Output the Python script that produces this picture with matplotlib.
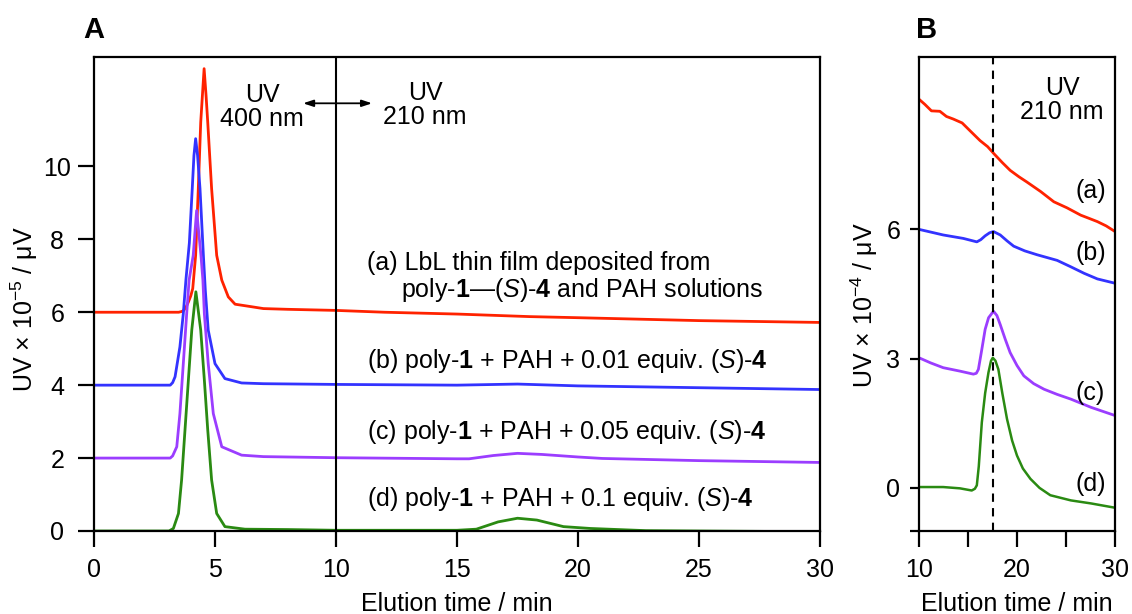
import matplotlib
matplotlib.use("Agg")
import matplotlib.pyplot as plt

plt.rcParams['font.family'] = ['Liberation Sans', 'DejaVu Sans']
plt.rcParams['mathtext.fontset'] = 'custom'
plt.rcParams['mathtext.rm'] = 'Liberation Sans'
plt.rcParams['mathtext.it'] = 'Liberation Sans:italic'
plt.rcParams['mathtext.bf'] = 'Liberation Sans:bold'

# ---------- panel A : full chromatograms (UV x 1e-5 / uV) ----------
a_t = [0, 3.5, 3.62, 3.69, 3.79, 3.90, 4.0, 4.08, 4.2, 4.31, 4.41, 4.48, 4.55,
       4.63, 4.70, 4.86, 5.07, 5.28, 5.55, 5.83, 6.52, 7, 8, 10, 12, 15, 18, 20, 25, 30]
a_uv = [6.0, 6.0, 6.02, 6.04, 6.12, 6.28, 6.45, 6.65, 7.56, 9.39, 11.21, 11.95, 12.68,
        11.95, 11.21, 9.39, 7.56, 6.88, 6.42, 6.22, 6.15, 6.1, 6.08, 6.05, 6.0, 5.95,
        5.88, 5.85, 5.77, 5.72]

b_t = [0, 3.15, 3.25, 3.35, 3.55, 3.69, 3.8, 3.94, 4.06, 4.13, 4.2, 4.28, 4.38,
       4.52, 4.6, 4.72, 5.0, 5.41, 6.1, 7, 10, 15, 17.5, 20, 25, 30]
b_uv = [4.0, 4.0, 4.07, 4.23, 5.05, 5.96, 6.9, 7.9, 9.39, 10.3, 10.76, 10.3, 9.39,
        7.56, 6.6, 5.51, 4.59, 4.18, 4.06, 4.04, 4.02, 4.0, 4.03, 3.98, 3.93, 3.88]

c_t = [0, 3.15, 3.25, 3.42, 3.55, 3.69, 3.83, 3.93, 4.10, 4.24, 4.42, 4.5, 4.56,
       4.72, 4.93, 5.28, 6.1, 7, 10, 15, 15.5, 16.5, 17.5, 18.5, 20, 21, 25, 30]
c_uv = [2.0, 2.0, 2.06, 2.31, 3.22, 4.59, 5.96, 6.88, 7.56, 8.79, 7.56, 6.88, 5.96,
        4.59, 3.22, 2.31, 2.08, 2.04, 2.01, 1.98, 1.98, 2.07, 2.13, 2.1, 2.03, 1.99,
        1.93, 1.88]

d_t = [0, 3.1, 3.28, 3.49, 3.62, 3.76, 3.90, 4.04, 4.21, 4.41, 4.56, 4.70, 4.86,
       5.07, 5.41, 6.24, 8, 10, 15, 15.8, 16.7, 17.5, 18.3, 19.4, 20.5, 22.8, 25, 30]
d_uv = [0, 0, 0.07, 0.48, 1.40, 2.77, 4.14, 5.51, 6.56, 5.51, 4.14, 2.77, 1.40,
        0.48, 0.12, 0.05, 0.04, 0.02, 0.02, 0.05, 0.25, 0.35, 0.3, 0.12, 0.07, 0.01,
        0.0, -0.02]

# ---------- panel B : 210 nm region (UV x 1e-4 / uV) ----------
ba_t = [10, 10.6, 11.27, 12.13, 12.8, 13.5, 14.4, 15.2, 16.23, 17.0, 17.67, 18.5,
        19.3, 20.2, 21.0, 22.4, 23.76, 25.1, 26.5, 27.3, 28.2, 29.1, 30]
ba_uv = [9.02, 8.9, 8.75, 8.74, 8.62, 8.56, 8.47, 8.29, 8.06, 7.92, 7.75, 7.55,
         7.37, 7.22, 7.1, 6.88, 6.64, 6.5, 6.33, 6.26, 6.18, 6.08, 5.95]

bb_t = [10, 12.47, 14.52, 15.9, 16.3, 16.75, 17.2, 17.6, 18.29, 19.0, 19.66,
        20.8, 22.06, 24.1, 25.5, 26.85, 28.2, 30]
bb_uv = [6.0, 5.87, 5.79, 5.71, 5.76, 5.85, 5.92, 5.95, 5.87, 5.73, 5.61,
         5.5, 5.41, 5.28, 5.13, 4.98, 4.85, 4.75]

bc_t = [10, 11.2, 12.47, 14.18, 15.55, 15.85, 16.06, 16.4, 16.75, 17.1, 17.6,
        17.95, 18.29, 18.8, 19.3, 20.0, 20.7, 21.7, 22.76, 24.1, 25.5, 27.55, 30]
bc_uv = [3.02, 2.9, 2.79, 2.71, 2.64, 2.66, 2.75, 3.2, 3.68, 3.95, 4.10,
         4.0, 3.79, 3.45, 3.14, 2.84, 2.60, 2.42, 2.29, 2.17, 2.06, 1.87, 1.68]

bd_t = [10, 12.47, 14.18, 15.38, 15.7, 15.9, 16.1, 16.41, 16.75, 17.09, 17.35,
        17.53, 17.8, 18.1, 18.5, 18.98, 19.5, 20.0, 20.6, 21.37, 22.3, 23.4, 25.5,
        27.55, 30]
bd_uv = [0.02, 0.02, -0.01, -0.06, -0.02, 0.06, 0.5, 1.52, 2.2, 2.68, 2.95,
         3.02, 2.95, 2.75, 2.2, 1.60, 1.1, 0.75, 0.45, 0.21, 0.0, -0.17, -0.29,
         -0.36, -0.46]

red = '#ff2200'
blue = '#3333ff'
purple = '#9b3dff'
green = '#2a8a12'

fs = 18

fig = plt.figure(figsize=(11.32, 6.14), dpi=100)
axA = fig.add_axes([94 / 1132, 83 / 614, 726 / 1132, 474 / 614])
axB = fig.add_axes([919 / 1132, 83 / 614, 196 / 1132, 474 / 614])

for ax in (axA, axB):
    for sp in ax.spines.values():
        sp.set_linewidth(1.6)
    ax.tick_params(direction='out', width=1.6, labelsize=fs)
    ax.tick_params(axis='x', length=11.5, pad=8)

axA.tick_params(axis='y', length=11.5, pad=15)
axB.tick_params(axis='y', length=6.5, pad=12)

# ----- A -----
axA.plot(a_t, a_uv, color=red, lw=2)
axA.plot(b_t, b_uv, color=blue, lw=2)
axA.plot(c_t, c_uv, color=purple, lw=2)
axA.plot(d_t, d_uv, color=green, lw=2)
axA.axvline(10, color='black', lw=1.5)
axA.set_xlim(0, 30)
axA.set_ylim(0, 13)
axA.set_xticks([0, 5, 10, 15, 20, 25, 30])
axA.set_yticks([0, 2, 4, 6, 8, 10])
for lbl in axA.get_yticklabels():
    lbl.set_horizontalalignment('center')
axA.set_xlabel('Elution time / min', fontsize=fs, labelpad=7)
axA.set_ylabel('UV × 10$^{-5}$ / μV', fontsize=fs)
axA.yaxis.set_label_coords(-0.075, 0.468)

axA.annotate('', xy=(8.64, 11.73), xytext=(11.49, 11.73),
             arrowprops=dict(arrowstyle='<|-|>,head_length=0.6,head_width=0.2',
                             color='black', lw=1.3, shrinkA=0, shrinkB=0))
axA.text(6.94, 11.64, 'UV\n400 nm', ha='center', va='center', fontsize=fs, linespacing=1.0)
axA.text(13.68, 11.68, 'UV\n210 nm', ha='center', va='center', fontsize=fs, linespacing=1.0)

axA.text(11.28, 7.34, '(a) LbL thin film deposited from', fontsize=fs, va='center')
axA.text(12.69, 6.6, r'poly-$\mathbf{1}$—($\mathit{S}$)-$\mathbf{4}$ and PAH solutions',
         fontsize=fs, va='center')
axA.text(11.28, 4.66, r'(b) poly-$\mathbf{1}$ + PAH + 0.01 equiv. ($\mathit{S}$)-$\mathbf{4}$',
         fontsize=fs, va='center')
axA.text(11.28, 2.71, r'(c) poly-$\mathbf{1}$ + PAH + 0.05 equiv. ($\mathit{S}$)-$\mathbf{4}$',
         fontsize=fs, va='center')
axA.text(11.28, 0.88, r'(d) poly-$\mathbf{1}$ + PAH + 0.1 equiv. ($\mathit{S}$)-$\mathbf{4}$',
         fontsize=fs, va='center')

# ----- B -----
axB.plot(ba_t, ba_uv, color=red, lw=2)
axB.plot(bb_t, bb_uv, color=blue, lw=2)
axB.plot(bc_t, bc_uv, color=purple, lw=2)
axB.plot(bd_t, bd_uv, color=green, lw=1.8)
axB.axvline(17.6, color='black', lw=1.5, ls=(0, (4, 3)))
axB.set_xlim(10, 30)
axB.set_ylim(-1, 10)
axB.set_xticks([10, 15, 20, 25, 30])
axB.set_xticklabels(['10', '', '20', '', '30'])
axB.set_yticks([-1, 0, 3, 6])
axB.set_yticklabels(['', '0', '3', '6'])
for lbl in axB.get_yticklabels():
    lbl.set_horizontalalignment('center')
axB.set_xlabel('Elution time / min', fontsize=fs, labelpad=7)
axB.set_ylabel('UV × 10$^{-4}$ / μV', fontsize=fs)
axB.yaxis.set_label_coords(-0.2, 0.477)

axB.text(24.6, 9.0, 'UV\n210 nm', ha='center', va='center', fontsize=fs, linespacing=1.0)
axB.text(27.5, 6.9, '(a)', ha='center', va='center', fontsize=fs)
axB.text(27.5, 5.45, '(b)', ha='center', va='center', fontsize=fs)
axB.text(27.5, 2.21, '(c)', ha='center', va='center', fontsize=fs)
axB.text(27.5, 0.1, '(d)', ha='center', va='center', fontsize=fs)

fig.text(94 / 1132, 1 - 30 / 614, 'A', fontsize=21, fontweight='bold', ha='center', va='center')
fig.text(927 / 1132, 1 - 30 / 614, 'B', fontsize=21, fontweight='bold', ha='center', va='center')

fig.savefig('out.png', dpi=100)
